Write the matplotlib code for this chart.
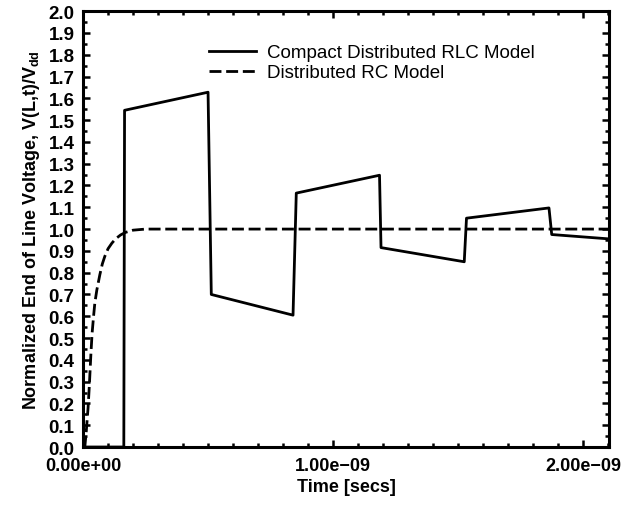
import numpy as np
import matplotlib
matplotlib.use("Agg")
import matplotlib.pyplot as plt
from matplotlib.ticker import MultipleLocator, FixedLocator

plt.rcParams['font.family'] = ['Liberation Sans', 'DejaVu Sans']
plt.rcParams['mathtext.fontset'] = 'custom'
plt.rcParams['mathtext.rm'] = 'Liberation Sans'
plt.rcParams['mathtext.bf'] = 'Liberation Sans:bold'

# compact distributed RLC model (time in ns)
t_rlc = [0.0, 0.163, 0.166, 0.500, 0.513, 0.840, 0.853, 1.186, 1.192, 1.525, 1.534, 1.864, 1.875, 2.104]
v_rlc = [0.0, 0.0, 1.545, 1.628, 0.700, 0.605, 1.165, 1.247, 0.915, 0.850, 1.050, 1.097, 0.975, 0.955]

# distributed RC model (time in ns)
t_rc = [0.0, 0.007, 0.013, 0.020, 0.025, 0.031, 0.036, 0.042, 0.047, 0.055, 0.067, 0.077,
        0.087, 0.100, 0.115, 0.130, 0.150, 0.170, 0.200, 0.250, 2.104]
v_rc = [0.0, 0.0, 0.075, 0.18, 0.28, 0.42, 0.52, 0.60, 0.66, 0.72, 0.79, 0.84,
        0.875, 0.91, 0.935, 0.955, 0.973, 0.985, 0.995, 1.0, 1.0]

x_ticks = [0.0, 1.0e-9, 2.0e-9]
x_labels = ["0.00e+00", "1.00e\u221209", "2.00e\u221209"]

t_rlc = np.array(t_rlc) * 1e-9
t_rc = np.array(t_rc) * 1e-9

fig = plt.figure(figsize=(6.39, 5.06), dpi=100)
ax = fig.add_axes([0.130, 0.1146, 0.823, 0.8614])

ax.plot(t_rlc, v_rlc, color="black", lw=2.0, label="Compact Distributed RLC Model")
ax.plot(t_rc, v_rc, color="black", lw=2.0, ls=(0, (4.3, 1.7)), label="Distributed RC Model")

ax.set_xlim(0, 2.104e-9)
ax.set_ylim(0, 2.0)

ax.xaxis.set_major_locator(FixedLocator(x_ticks))
ax.set_xticklabels(x_labels, fontweight="bold", fontsize=13)
ax.xaxis.set_minor_locator(MultipleLocator(1e-10))
ax.set_yticks(np.arange(0, 2.01, 0.1))
ax.set_yticklabels([f"{v:.1f}" for v in np.arange(0, 2.01, 0.1)], fontweight="bold", fontsize=13.5)
ax.yaxis.set_minor_locator(MultipleLocator(0.05))

ax.tick_params(which="both", direction="in", top=True, right=True, width=1.8)
ax.tick_params(which="major", length=5)
ax.tick_params(axis="y", which="major", pad=6)
ax.tick_params(axis="x", which="major", pad=7)
ax.tick_params(which="minor", length=3)
for s in ax.spines.values():
    s.set_linewidth(2.2)

ax.set_xlabel("Time [secs]", fontweight="bold", fontsize=13, labelpad=3)
ax.set_ylabel(r"Normalized End of Line Voltage, V(L,t)/V$_{\mathbf{dd}}$",
              fontweight="bold", fontsize=13, labelpad=5)

leg = ax.legend(loc="upper left", bbox_to_anchor=(0.24, 0.924), frameon=False,
                fontsize=13.5, handlelength=2.5, handletextpad=0.6, labelspacing=0.15,
                borderaxespad=0, borderpad=0)

fig.savefig("out.png", dpi=100)
